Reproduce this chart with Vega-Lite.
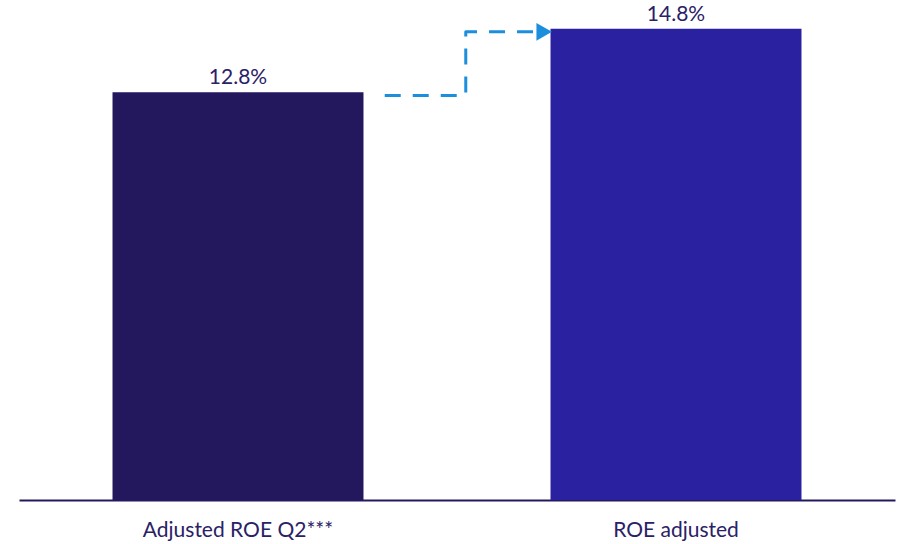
{
  "$schema": "https://vega.github.io/schema/vega-lite/v6.json",
  "width": 876,
  "height": 500,
  "padding": {"left": 19, "top": 0, "right": 2, "bottom": 44},
  "autosize": {"type": "none"},
  "background": "white",
  "config": {"view": {"stroke": null}, "font": "Lato"},
  "datasets": {
    "bars": [
      {"label": "Adjusted ROE Q2***", "value": 12.8, "text": "12.8%"},
      {"label": "ROE adjusted", "value": 14.8, "text": "14.8%"}
    ],
    "arrow": [
      {"pos": 0.335, "level": 12.7, "step": 1},
      {"pos": 0.52, "level": 12.7, "step": 2},
      {"pos": 0.52, "level": 14.7, "step": 3},
      {"pos": 0.69, "level": 14.7, "step": 4}
    ],
    "head": [{"pos": 0.699, "level": 14.7}]
  },
  "layer": [
    {
      "data": {"name": "bars"},
      "mark": {"type": "bar"},
      "encoding": {
        "x": {
          "field": "label", "type": "nominal", "sort": null,
          "scale": {"paddingInner": 0.427, "paddingOuter": 0.2135},
          "axis": {"title": null, "labelAngle": 0, "labelFont": "Lato", "labelFontSize": 21, "labelLimit": 0, "labelColor": "#2a2166", "labelPadding": 19, "ticks": false, "domainColor": "#24195e", "domainWidth": 2, "grid": false}
        },
        "y": {"field": "value", "type": "quantitative", "scale": {"domain": [0, 15.7], "nice": false}, "axis": null},
        "color": {"field": "label", "type": "nominal", "sort": null, "scale": {"range": ["#23185e", "#2a21a0"]}, "legend": null}
      }
    },
    {
      "data": {"name": "bars"},
      "mark": {"type": "text", "baseline": "bottom", "dy": -4, "fontSize": 21, "font": "Lato", "color": "#2a2166"},
      "encoding": {
        "x": {"field": "label", "type": "nominal", "sort": null, "scale": {"paddingInner": 0.427, "paddingOuter": 0.2135}, "axis": null},
        "y": {"field": "value", "type": "quantitative"},
        "text": {"field": "text"}
      }
    },
    {
      "data": {"name": "arrow"},
      "mark": {"type": "line", "color": "#1b8fdd", "strokeWidth": 3, "strokeDash": [16, 12], "strokeJoin": "round"},
      "encoding": {
        "x": {"field": "pos", "type": "quantitative", "scale": {"domain": [-0.5, 1.5], "nice": false, "zero": false}, "axis": null},
        "y": {"field": "level", "type": "quantitative"},
        "order": {"field": "step", "type": "quantitative"}
      }
    },
    {
      "data": {"name": "head"},
      "mark": {"type": "point", "shape": "triangle-right", "filled": true, "size": 320, "color": "#1b8fdd", "opacity": 1},
      "encoding": {
        "x": {"field": "pos", "type": "quantitative", "scale": {"domain": [-0.5, 1.5], "nice": false, "zero": false}, "axis": null},
        "y": {"field": "level", "type": "quantitative"}
      }
    }
  ],
  "resolve": {"scale": {"x": "independent"}}
}
